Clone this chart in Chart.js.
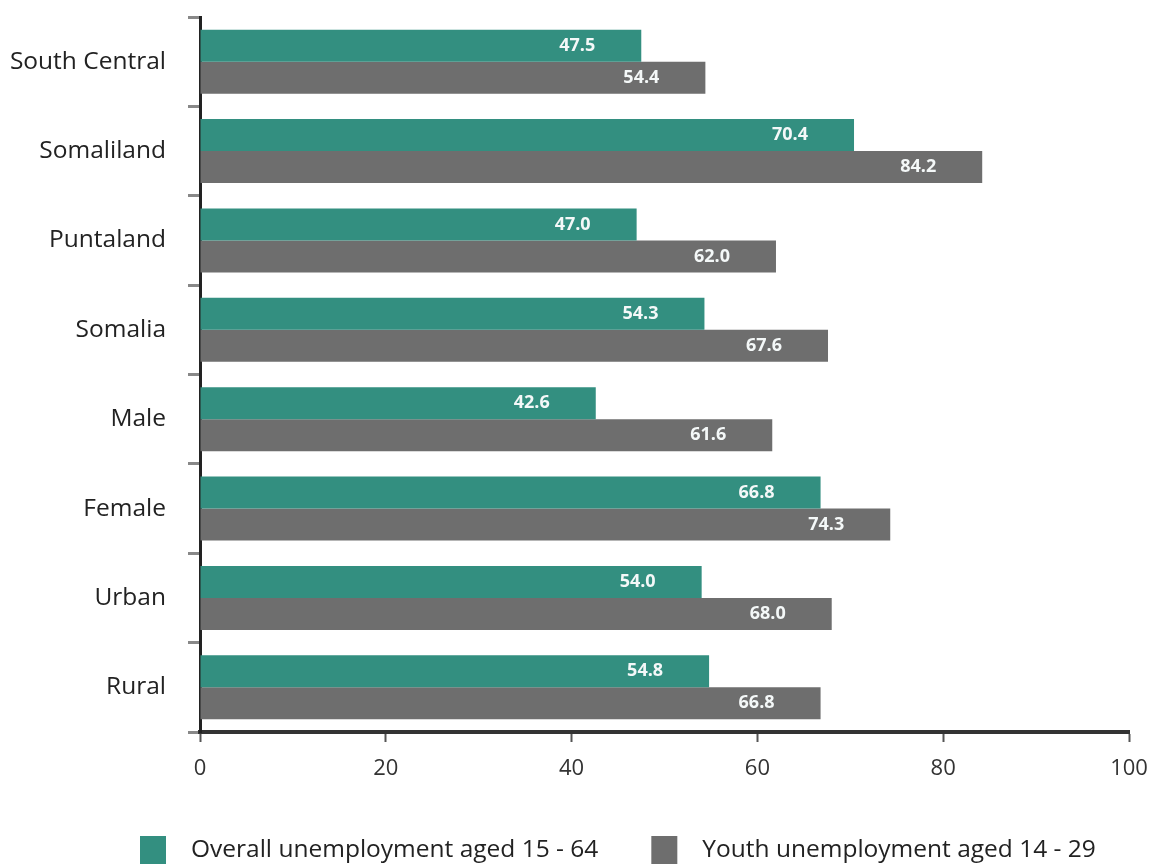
<!DOCTYPE html>
<html><head><meta charset="utf-8">
<script src="https://cdn.jsdelivr.net/npm/chart.js@4.4.1/dist/chart.umd.min.js"></script>
<style>
html,body{margin:0;padding:0;background:#fff;overflow:hidden;}
#wrap{position:relative;width:1149px;height:864px;}
</style></head>
<body><div id="wrap"><canvas id="c"></canvas></div>
<script>
const categories = ["South Central","Somaliland","Puntaland","Somalia","Male","Female","Urban","Rural"];
const overall = [47.5,70.4,47.0,54.3,42.6,66.8,54.0,54.8];
const youth = [54.4,84.2,62.0,67.6,61.6,74.3,68.0,66.8];
const seriesNames = ["Overall unemployment aged 15 - 64","Youth unemployment aged 14 - 29"];
const seriesColors = ['#338f80','#6e6e6e'];
const xTicks = [0,20,40,60,80,100];

const FONT = '"Open Sans", sans-serif';

const labelPlugin = {
  id:'barLabels',
  afterDatasetsDraw(chart){
    const ctx = chart.ctx;
    ctx.save();
    ctx.font = 'bold 18px ' + FONT;
    ctx.fillStyle = '#f4f8f8';
    ctx.textAlign = 'center';
    ctx.textBaseline = 'middle';
    chart.data.datasets.forEach((ds,i)=>{
      chart.getDatasetMeta(i).data.forEach((bar,j)=>{
        ctx.fillText(ds.data[j].toFixed(1), bar.x - 64, bar.y);
      });
    });
    ctx.restore();
  }
};

const legendPlugin = {
  id:'customLegend',
  afterDraw(chart){
    const ctx = chart.ctx;
    ctx.save();
    ctx.font = '24.5px ' + FONT;
    ctx.textBaseline = 'middle';
    ctx.textAlign = 'left';
    const y = 850, box = 26, gap = 25, itemGap = 53;
    let x = 140;
    chart.data.datasets.forEach((ds)=>{
      ctx.fillStyle = ds.backgroundColor;
      ctx.fillRect(x, y - 14, box, 28);
      ctx.fillStyle = '#222';
      ctx.fillText(ds.label, x + box + gap, y);
      x += box + gap + ctx.measureText(ds.label).width + itemGap;
    });
    ctx.restore();
  }
};

new Chart(document.getElementById('c'),{
  type:'bar',
  data:{
    labels:categories,
    datasets:[
      {label:seriesNames[0],data:overall,backgroundColor:seriesColors[0],categoryPercentage:0.716,barPercentage:1},
      {label:seriesNames[1],data:youth,backgroundColor:seriesColors[1],categoryPercentage:0.716,barPercentage:1}
    ]
  },
  options:{
    indexAxis:'y',
    responsive:true,
    maintainAspectRatio:false,
    animation:false,
    layout:{padding:{top:17,right:20,left:0,bottom:41}},
    plugins:{
      legend:{display:false},
      tooltip:{enabled:false}
    },
    scales:{
      x:{
        min:0,max:100,
        afterBuildTicks(s){ s.ticks = xTicks.map(v=>({value:v})); },
        afterFit(s){ s.height = 91; s.paddingLeft = 0; s.paddingRight = 0; },
        grid:{drawOnChartArea:false,tickLength:10,color:'#555',tickWidth:2},
        border:{color:'#333',width:4},
        ticks:{padding:14,color:'#333',font:{family:FONT,size:22}}
      },
      y:{
        afterFit(s){ s.width = 200; s.paddingTop = 0; s.paddingBottom = 0; },
        grid:{offset:true,drawOnChartArea:false,tickLength:12,color:'#888',tickWidth:3},
        border:{color:'#222',width:3},
        ticks:{padding:22,color:'#222',font:{family:FONT,size:24.5}}
      }
    }
  },
  plugins:[labelPlugin, legendPlugin]
});
</script></body></html>
